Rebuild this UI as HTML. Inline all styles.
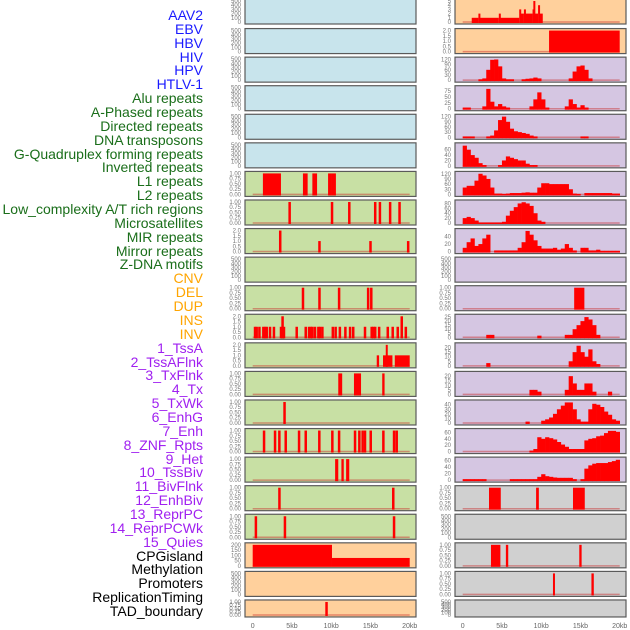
<!DOCTYPE html>
<html><head><meta charset="utf-8">
<style>
html,body{margin:0;padding:0;background:#fff;}
body{width:630px;height:630px;overflow:hidden;position:relative;font-family:"Liberation Sans",sans-serif;}
.lab{position:absolute;right:427px;font-size:14px;line-height:14px;white-space:nowrap;text-align:right;}
svg{position:absolute;left:0;top:0;}
</style></head>
<body>
<div id="labels"></div>
<svg id="chart" width="630" height="630"></svg>
<script>
// ---- data ----
const labelNames = ["AAV2","EBV","HBV","HIV","HPV","HTLV-1","Alu repeats","A-Phased repeats","Directed repeats","DNA transposons","G-Quadruplex forming repeats","Inverted repeats","L1 repeats","L2 repeats","Low_complexity A/T rich regions","Microsatellites","MIR repeats","Mirror repeats","Z-DNA motifs","CNV","DEL","DUP","INS","INV","1_TssA","2_TssAFlnk","3_TxFlnk","4_Tx","5_TxWk","6_EnhG","7_Enh","8_ZNF_Rpts","9_Het","10_TssBiv","11_BivFlnk","12_EnhBiv","13_ReprPC","14_ReprPCWk","15_Quies","CPGisland","Methylation","Promoters","ReplicationTiming","TAD_boundary"];
const labelColors = ["#1a1aff","#1a6e1a","#ffa500","#a020f0","#000000"];
const labelGroupSizes = [6,13,5,15,5];
const xTickValues = [0,5,10,15,20];
const xTickLabels = ["0","5kb","10kb","15kb","20kb"];

const leftRow6 = [[1.3,3.6,1],[6.4,7.0,1],[7.6,8.2,1],[9.6,10.1,1],[10.1,10.6,1]];
const leftRow7 = [[4.7,1],[10.1,1],[12.3,1],[15.6,1],[16.2,1],[17.5,1],[18.7,1]];
const leftRow8 = [[3.5,2],[8.5,1],[15.0,1],[19.8,1]];
const leftRow10 = [[6.4,1],[8.5,1],[11.0,1],[14.7,1],[15.1,1]];
const leftRow11 = [[0.29,1],[0.5,1],[0.85,1],[1.35,1],[1.57,1],[1.78,1],[2.2,1],[2.7,1],[3.6,1],[3.8,2],[3.98,1],[5.6,1],[6.75,1],[7.17,1],[7.4,1],[7.6,1],[7.93,1],[8.36,1],[8.57,1],[8.87,1],[10.2,1],[10.56,1],[11.1,1],[11.8,1],[12.4,1],[12.8,1],[14.3,1],[15.15,1],[15.37,1],[15.6,1],[16.1,1],[17.2,1],[17.83,1],[18.47,1],[18.98,2],[19.5,1]];
const leftRow12 = [[15.8,16.1,1],[16.6,17.8,1],[16.95,17.1,2],[18.1,20.0,1]];
const leftRow13 = [[10.9,11.4,1],[12.9,13.8,1],[16.5,16.8,1]];
const leftRow14 = [[4.05,1]];
const leftRow15 = [[1.44,1],[2.84,1],[3.39,1],[4.2,1],[5.9,1],[6.75,1],[8.48,1],[10.14,1],[11.0,1],[13.03,1],[13.58,1],[14.0,1],[14.3,1],[15.03,1],[16.64,1],[18.0,1],[18.34,1]];
const leftRow16 = [[10.5,10.9,1],[11.3,11.6,1],[11.9,12.3,1]];
const leftRow17 = [[3.4,1],[17.9,1]];
const leftRow18 = [[0.4,1],[4.1,1],[18.0,1]];
const leftRow19 = [[0,10.1,200],[10.1,20,75]];
const leftRow21 = [[9.4,1]];

const rightRow0 = [[1.15,2,1],[2,2.2,2],[2.2,4.6,1],[4.6,4.8,2],[4.8,7.2,1],[7.2,7.4,3],[7.4,7.8,2],[7.8,8.0,3],[8.0,8.9,2],[8.9,9.0,3],[9.0,9.2,5],[9.2,9.6,2],[9.6,9.8,4],[9.8,10.2,2]];
const rightRow1 = [[11.0,20.0,2]];
const hivBins = [0,0,0,0,5,10,60,118,120,80,10,5,5,0,0,5,8,10,15,10,0,0,0,0,0,0,0,10,50,80,85,60,10,0,0,0,0,0,0,0];
const hpvBins = [5,5,0,0,0,10,85,30,10,20,10,5,0,0,0,0,0,10,40,70,40,5,0,0,0,0,10,40,20,5,15,5,0,0,0,0,0,0,0,0];
const aluBins = [5,5,5,0,0,0,5,10,40,100,120,90,50,35,30,25,20,10,5,0,0,0,0,0,0,0,0,0,0,0,5,5,0,0,0,0,0,0,0,0];
const aphasedBins = [75,60,40,30,10,3,0,0,0,3,20,35,30,25,20,20,8,3,3,0,0,0,0,0,0,0,0,0,0,0,0,0,0,0,0,0,0,0,0,0];
const directedBins = [40,50,50,80,120,110,90,40,5,5,3,5,8,8,8,10,12,10,10,40,65,65,60,60,60,60,60,30,5,3,0,8,8,8,8,8,8,8,5,5];
const dnaBins = [20,25,20,10,2,2,2,2,2,2,5,30,50,65,80,85,80,70,40,10,5,0,0,0,0,0,0,0,0,0,0,0,0,0,0,0,0,0,0,0];
const gquadBins = [10,25,35,15,20,35,45,0,3,3,3,3,3,3,10,25,55,45,30,15,8,8,8,10,5,8,20,10,3,0,10,10,3,3,5,2,2,2,2,2];
const rightRow10 = [[14.2,15.5,1]];
const row11Bins = [0,0,0,0,0,0,3,3,0,0,0,0,0,0,0,0,0,0,0,2,0,0,0,0,0,0,3,3,10,15,20,25,22,15,3,0,0,0,0,0];
const row12Bins = [0,0,0,0,0,0,3,0,0,0,0,0,0,0,0,0,0,0,0,0,0,0,0,0,0,0,0,5,15,22,15,10,18,5,2,0,0,0,0,0];
const row13Bins = [0,0,0,0,0,0,0,0,0,0,0,0,0,0,0,0,0,5,5,3,0,0,0,0,0,0,5,20,12,5,5,12,12,3,0,0,0,3,0,0];
const row14Bins = [0,0,0,0,0,0,0,0,0,0,0,0,0,0,0,0,3,0,0,0,5,8,12,20,30,38,45,45,30,8,3,3,30,42,40,35,25,18,8,5];
const row15Bins = [0,0,0,0,0,0,0,0,0,0,0,0,0,0,0,0,0,3,8,45,40,45,42,38,30,22,15,8,8,8,8,35,40,42,48,50,58,65,65,62];
const row16Bins = [3,3,3,3,3,3,0,0,0,0,0,0,3,3,3,3,3,3,3,10,18,12,10,8,7,7,7,7,3,0,3,35,45,50,52,52,52,55,58,62];
const rightRow17 = [[3.35,4.85,1],[9.35,9.7,1],[14.05,15.55,1]];
const rightRow19 = [[3.6,4.8,1],[5.5,5.8,1],[14.85,15.15,1]];
const rightRow20 = [[11.5,11.75,1],[16.4,16.7,1]];

const T500 = [0,100,200,300,400,500];
const T1 = [0,0.25,0.5,0.75,1];
const T2 = [0,0.5,1,1.5,2];
const BLUE="#c8e4ec", GREEN="#c8e0a4", PEACH="#ffd09c", LAV="#d5c6e2", GRAY="#d0d0d0";

const leftPanels = [
 [BLUE,500,T500,"none",null],[BLUE,500,T500,"none",null],[BLUE,500,T500,"none",null],
 [BLUE,500,T500,"none",null],[BLUE,500,T500,"none",null],[BLUE,500,T500,"none",null],
 [GREEN,1,T1,"seg",leftRow6],[GREEN,1,T1,"line",leftRow7],[GREEN,2,T2,"line",leftRow8],
 [GREEN,500,T500,"none",null],[GREEN,1,T1,"line",leftRow10],[GREEN,2,T2,"line",leftRow11],
 [GREEN,2,T2,"seg",leftRow12],[GREEN,1,T1,"seg",leftRow13],[GREEN,1,T1,"line",leftRow14],
 [GREEN,1,T1,"line",leftRow15],[GREEN,1,T1,"seg",leftRow16],[GREEN,1,T1,"line",leftRow17],
 [GREEN,1,T1,"line",leftRow18],[PEACH,200,[0,50,100,150,200],"seg",leftRow19],
 [PEACH,500,T500,"none",null],[PEACH,1,T1,"line",leftRow21]
];
const rightPanels = [
 [PEACH,5,[0,1,2,3,4,5],"seg",rightRow0],[PEACH,2,T2,"seg",rightRow1],
 [LAV,122,[0,30,60,90,120],"bins",hivBins],[LAV,90,[0,25,50,75],"bins",hpvBins],
 [LAV,122,[0,30,60,90,120],"bins",aluBins],[LAV,78,[0,20,40,60],"bins",aphasedBins],
 [LAV,122,[0,30,60,90,120],"bins",directedBins],[LAV,86,[0,20,40,60,80],"bins",dnaBins],
 [LAV,56,[0,20,40],"bins",gquadBins],[LAV,500,T500,"none",null],
 [LAV,1,T1,"seg",rightRow10],[LAV,26,[0,5,10,15,20,25],"bins",row11Bins],
 [LAV,23,[0,5,10,15,20],"bins",row12Bins],[LAV,23,[0,5,10,15,20],"bins",row13Bins],
 [LAV,46,[0,10,20,30,40],"bins",row14Bins],[LAV,66,[0,20,40,60],"bins",row15Bins],
 [LAV,64,[0,20,40,60],"bins",row16Bins],[GRAY,1,T1,"seg",rightRow17],
 [GRAY,500,T500,"none",null],[GRAY,1,T1,"seg",rightRow19],[GRAY,1,T1,"seg",rightRow20],
 [GRAY,500,T500,"none",null]
];

// ---- labels ----
const labDiv = document.getElementById('labels');
let gi=0, cnt=0;
labelNames.forEach((n,i)=>{
  while(cnt>=labelGroupSizes[gi]){gi++;cnt=0;}
  cnt++;
  const d=document.createElement('div');
  d.className='lab';
  d.textContent=n;
  d.style.top=(8+13.86*i)+'px';
  d.style.color=labelColors[gi];
  
  
  labDiv.appendChild(d);
});

// ---- chart ----
const NS="http://www.w3.org/2000/svg";
const svg=document.getElementById('chart');
function mk(tag,attrs,parent){const e=document.createElementNS(NS,tag);for(const k in attrs)e.setAttribute(k,attrs[k]);(parent||svg).appendChild(e);return e;}
const KB=7.85;
function fmt(v,ticks){const step=ticks[1]-ticks[0];if(step<0.5)return v.toFixed(2);if(step<1)return v.toFixed(1);return String(v);}

function drawPanel(p,col,k){
  const [bg,ymax,ticks,kind,data]=p;
  const px = col===0?245:455, pw=171;
  const x0 = px+7.7;
  const top = 28.57*k + (k===0?-1:0);
  const h = (k===21)?17:25;
  const bottom = top+h-2;
  const ys = v=> bottom - v/ymax*(h-4);
  const xs = kb=> x0 + kb*KB;
  const g=mk('g',{});
  
  
  mk('rect',{x:px,y:top,width:pw,height:h,fill:bg,stroke:'#5a5a5a','stroke-width':1.2},g);
  ticks.forEach(t=>{
    const tx=mk('text',{x:px-4,y:ys(t)+2,'font-size':6,fill:'#777','text-anchor':'end','font-family':'Liberation Sans, sans-serif'},g);
    tx.textContent=fmt(t,ticks);
  });
  if(kind!=="none"){
    mk('line',{x1:xs(0),x2:xs(20),y1:bottom,y2:bottom,stroke:'rgba(200,40,40,0.45)','stroke-width':1.5},g);
  }
  if(kind==="bins"){
    data.forEach((v,i)=>{ if(v<=0) return;
      const r=mk('rect',{x:xs(i*0.5),y:ys(v),width:KB*0.5+0.3,height:bottom-ys(v)+1,fill:'#ff0000'},g);
      
    });
  } else if(kind==="seg"){
    data.forEach(s=>{
      const r=mk('rect',{x:xs(s[0]),y:ys(s[2]),width:Math.max(2,(s[1]-s[0])*KB),height:bottom-ys(s[2])+1,fill:'#ff0000'},g);
      
    });
  } else if(kind==="line"){
    data.forEach(s=>{
      const r=mk('rect',{x:xs(s[0])-1.2,y:ys(s[1]),width:2.5,height:bottom-ys(s[1])+1,fill:'#ff0000'},g);
      
    });
  }
}
leftPanels.forEach((p,k)=>drawPanel(p,0,k));
rightPanels.forEach((p,k)=>drawPanel(p,1,k));

[252.7,462.7].forEach((x0,c)=>{
  xTickValues.forEach((v,i)=>{
    const t=mk('text',{x:x0+v*KB,y:628,'font-size':7,fill:'#666','text-anchor':'middle','font-family':'Liberation Sans, sans-serif'});
    t.textContent=xTickLabels[i];
    
    
  });
});
</script>
</body></html>
